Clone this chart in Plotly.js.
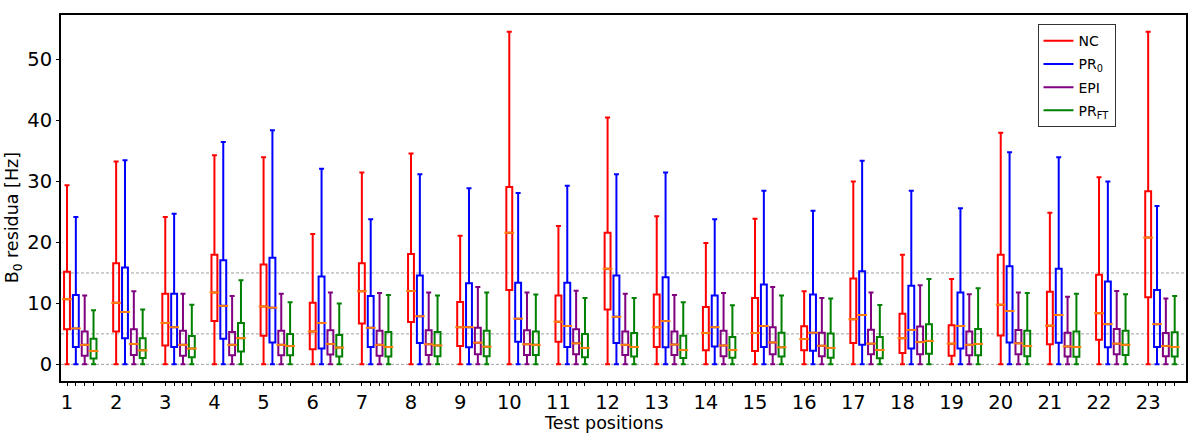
<!DOCTYPE html>
<html>
<head>
<meta charset="utf-8">
<script src="https://cdn.plot.ly/plotly-3.0.1.min.js"></script>
<style>html,body{margin:0;padding:0;background:#fff;}#chart{width:1196px;height:442px;}</style>
</head>
<body>
<div id="chart"></div>
<script>
// ---- data ----
const positions = [1,2,3,4,5,6,7,8,9,10,11,12,13,14,15,16,17,18,19,20,21,22,23];
const tickLabels = positions.map(String);
const seriesNames = ["NC", "PR<sub>0</sub>", "EPI", "PR<sub>FT</sub>"];
const xTitle = "Test positions";
const yTitle = "B<sub>0</sub> residua [Hz]";

const minValues = [0,0,0,0,0,0,0,0,0,0,0,0,0,0,0,0,0,0,0,0,0,0,0];

const ncUpper = [29.4,33.3,24.2,34.3,34.0,21.4,31.5,34.6,21.1,54.6,22.7,40.5,24.3,19.9,23.9,12.0,30.0,18.0,14.0,38.0,24.9,30.7,54.6];
const ncQ3    = [15.2,16.6,11.6,18.0,16.4,10.1,16.6,18.1,10.25,29.1,11.3,21.6,11.45,9.4,10.9,6.25,14.1,8.3,6.4,18.0,11.9,14.7,28.4];
const ncMed   = [10.7,10.1,6.8,11.8,9.5,5.4,12.0,12.05,6.1,21.6,7.0,15.7,6.1,5.15,5.15,4.15,7.4,4.3,3.4,9.8,6.35,8.4,20.8];
const ncQ1    = [5.75,5.4,3.1,7.1,4.7,2.5,6.7,6.96,3.0,12.2,3.7,9.0,2.85,2.3,2.2,2.3,3.5,1.85,1.4,4.75,3.3,4.05,11.0];

const pr0Upper = [24.2,33.5,24.7,36.5,38.4,32.1,23.8,31.2,28.9,28.1,29.3,31.2,31.5,23.8,28.5,25.2,33.4,28.5,25.6,34.8,34.0,30.0,26.0];
const pr0Q3    = [11.4,15.9,11.6,17.1,17.5,14.4,11.2,14.6,13.3,13.4,13.4,14.6,14.3,11.3,13.1,11.45,15.3,12.9,11.8,16.1,15.7,13.6,12.2];
const pr0Med   = [5.9,8.6,6.1,9.6,9.3,6.8,6.0,7.9,6.1,7.5,6.3,7.8,7.1,6.1,6.3,5.2,8.1,5.65,6.3,8.75,8.1,6.6,6.6];
const pr0Q1    = [2.85,4.3,2.85,4.2,3.6,2.6,2.85,3.5,2.8,3.7,2.85,3.5,2.8,2.95,2.85,2.25,3.2,2.6,2.6,3.6,3.55,2.8,2.85];

const epiUpper = [11.3,12.0,11.6,11.2,11.6,11.8,11.7,11.8,12.7,11.8,12.1,11.6,11.4,11.7,12.7,10.9,11.8,13.0,11.5,11.8,11.1,12.05,10.8];
const epiQ3    = [5.4,5.75,5.5,5.3,5.5,5.6,5.5,5.6,6.0,5.6,5.75,5.4,5.4,5.5,6.1,5.2,5.7,6.2,5.4,5.65,5.2,5.8,5.15];
const epiMed   = [3.2,3.35,3.2,3.2,3.2,3.35,3.2,3.3,3.55,3.3,3.45,3.2,3.25,3.1,3.6,3.05,3.4,3.65,3.2,3.45,2.95,3.4,3.0];
const epiQ1    = [1.4,1.55,1.4,1.5,1.5,1.6,1.4,1.55,1.65,1.55,1.65,1.55,1.55,1.35,1.65,1.35,1.65,1.65,1.5,1.65,1.3,1.65,1.35];

const ftUpper = [8.9,9.0,9.8,13.8,10.2,10.0,11.4,11.3,11.8,11.45,10.9,10.9,10.2,9.7,11.3,10.8,9.75,14.0,12.5,11.7,11.6,11.5,11.2];
const ftQ3    = [4.2,4.3,4.65,6.8,5.0,4.8,5.3,5.3,5.5,5.4,5.0,5.15,4.7,4.5,5.2,5.05,4.5,6.6,5.8,5.5,5.4,5.5,5.25];
const ftMed   = [2.2,2.3,2.6,4.3,3.0,2.75,2.85,3.1,2.9,3.2,2.7,2.85,2.35,2.35,2.8,2.7,2.35,3.85,3.35,3.0,2.85,3.2,2.85];
const ftQ1    = [0.95,1.05,1.15,2.1,1.5,1.3,1.3,1.35,1.35,1.55,1.15,1.3,1.05,1.1,1.3,1.1,1.0,1.75,1.5,1.35,1.25,1.55,1.3];

const refLines = [0, 5, 15];
const yTicks = [0, 10, 20, 30, 40, 50];

// ---- styling ----
const colors = ["red", "blue", "purple", "green"];
const medianColor = "#ff7f0e";
const seriesOffsets = [0, 0.18, 0.36, 0.54];
const boxWidth = 0.12;

const stats = [
  {q1: ncQ1, med: ncMed, q3: ncQ3, up: ncUpper},
  {q1: pr0Q1, med: pr0Med, q3: pr0Q3, up: pr0Upper},
  {q1: epiQ1, med: epiMed, q3: epiQ3, up: epiUpper},
  {q1: ftQ1, med: ftMed, q3: ftQ3, up: ftUpper}
];

const traces = [];
const minorVals = [];
stats.forEach((s, k) => {
  const xs = positions.map(p => p + seriesOffsets[k]);
  if (k > 0) xs.forEach(v => minorVals.push(v));
  traces.push({
    type: "box",
    x: xs,
    q1: s.q1, median: s.med, q3: s.q3,
    lowerfence: minValues, upperfence: s.up,
    width: boxWidth,
    whiskerwidth: 0.85,
    boxpoints: false,
    line: {color: colors[k], width: 2},
    fillcolor: "rgba(0,0,0,0)",
    showlegend: false,
    hoverinfo: "skip"
  });
});
stats.forEach((s, k) => {
  const xs = positions.map(p => p + seriesOffsets[k]);
  traces.push({
    type: "scatter", mode: "markers",
    x: xs, y: s.med,
    marker: {symbol: "line-ew", size: 7, color: medianColor, line: {color: medianColor, width: 2}},
    showlegend: false, hoverinfo: "skip"
  });
});
// legend entries (lines, as in the reference)
seriesNames.forEach((n, k) => {
  traces.push({
    type: "scatter", mode: "lines", x: [null], y: [null],
    name: n, legendgroup: "g" + k,
    line: {color: colors[k], width: 2},
    hoverinfo: "skip"
  });
});

const shapes = refLines.map(v => ({
  type: "line", xref: "paper", x0: 0, x1: 1, yref: "y", y0: v, y1: v,
  line: {color: "#a0a0a0", width: 1, dash: "3px,2px"}, layer: "below"
}));

const font = "DejaVu Sans, Liberation Sans, sans-serif";
const titleFont = {size: 17.5, family: font, color: "#000"};
const layout = {
  width: 1196, height: 442,
  margin: {l: 61, r: 10, t: 15, b: 61, pad: 0},
  paper_bgcolor: "#fff", plot_bgcolor: "#fff",
  font: {family: font, color: "#000"},
  showlegend: true,
  boxmode: "overlay",
  xaxis: {
    range: [0.878, 23.77],
    tickmode: "array", tickvals: positions, ticktext: tickLabels,
    ticks: "outside", ticklen: 3, tickwidth: 1, tickcolor: "#000",
    minor: {tickmode: "array", tickvals: minorVals, ticks: "outside", ticklen: 3, tickwidth: 1, tickcolor: "#000", showgrid: false},
    tickfont: {size: 19.5, family: font, color: "#000"},
    showgrid: false, zeroline: false,
    showline: true, linecolor: "#000", linewidth: 2, mirror: true
  },
  yaxis: {
    range: [-2.73, 57.33],
    tickmode: "array", tickvals: yTicks,
    ticks: "outside", ticklen: 3, tickwidth: 1, tickcolor: "#000",
    tickfont: {size: 19.5, family: font, color: "#000"},
    showgrid: false, zeroline: false,
    showline: true, linecolor: "#000", linewidth: 2, mirror: true
  },
  legend: {
    x: 0.868, y: 0.975, xanchor: "left", yanchor: "top",
    bgcolor: "#fff", bordercolor: "#333", borderwidth: 1,
    font: {size: 14, family: font, color: "#000"},
    tracegroupgap: 2
  },
  annotations: [
    {text: xTitle, xref: "paper", yref: "paper", x: 0.482, y: -0.116, xanchor: "center", yanchor: "middle",
     showarrow: false, font: titleFont},
    {text: yTitle, xref: "paper", yref: "paper", x: -0.0425, y: 0.445, xanchor: "center", yanchor: "middle",
     textangle: -90, showarrow: false, font: titleFont}
  ],
  shapes: shapes
};

Plotly.newPlot("chart", traces, layout, {staticPlot: true, displayModeBar: false});
</script>
</body>
</html>
